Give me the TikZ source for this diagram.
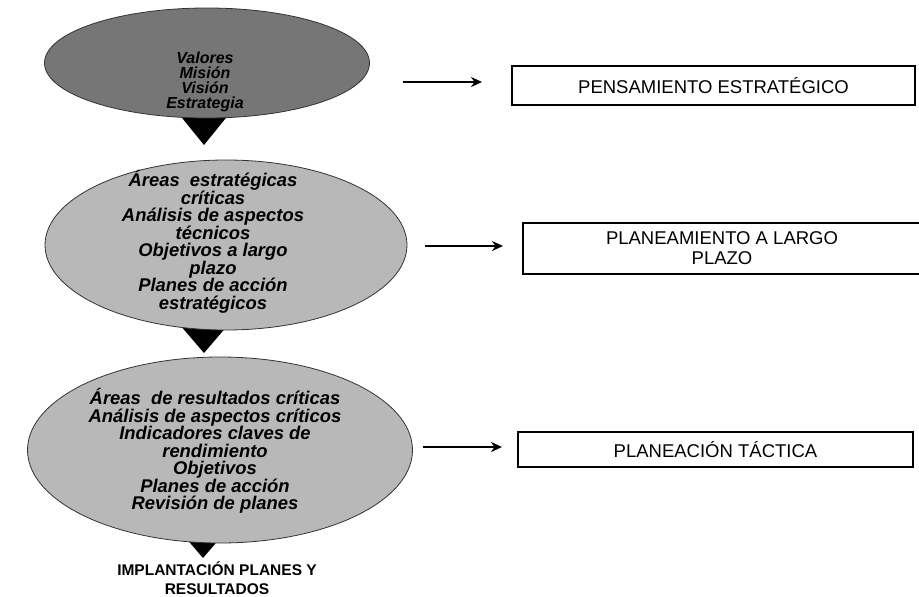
\documentclass[tikz,border=0pt]{standalone}
\usepackage{fontspec}
\setmainfont{Liberation Sans}
\usetikzlibrary{shapes.geometric,arrows.meta}

\definecolor{darkbubble}{RGB}{118,118,118}
\definecolor{lightbubble}{RGB}{184,184,184}

\begin{document}
\begin{tikzpicture}[x=1pt,y=-1pt,
  bubble/.style={ellipse, draw=black!80, line width=0.8pt, inner sep=0pt},
  bubbletext/.style={align=center, inner sep=0pt,
    font=\bfseries\itshape\fontsize{18.4}{17.5}\selectfont},
  stagebox/.style={draw, line width=2.6pt, inner sep=0pt, align=center,
    font=\fontsize{18.5}{20}\selectfont},
  flowtip/.style={fill=black},
  sidearrow/.style={line width=2.5pt, -{Stealth[length=11pt,width=10pt]}}
]
\useasboundingbox (0,0) rectangle (919,597);

% downward pointers between the stages (drawn first, tucked under the ellipses)
\fill[flowtip] (174,108) -- (234,108) -- (204,145) -- cycle;
\fill[flowtip] (174,318) -- (234,318) -- (204,353) -- cycle;
\fill[flowtip] (173,523) -- (233,523) -- (203,558) -- cycle;

% the three stages
\node[bubble, fill=darkbubble, minimum width=325pt, minimum height=110pt] (e1) at (207,63) {};
\node[bubble, fill=lightbubble, minimum width=362pt, minimum height=170pt] (e2) at (226,245) {};
\node[bubble, fill=lightbubble, minimum width=385pt, minimum height=186pt] (e3) at (220,450) {};

\node[bubbletext, font=\bfseries\itshape\fontsize{16}{15.2}\selectfont] (t1) at (205,82)
  {Valores\\Misión\\Visión\\Estrategia};
\node[bubbletext] (t2) at (213,242)
  {Áreas\ \ estratégicas\\críticas\\Análisis de aspectos\\técnicos\\Objetivos a largo\\plazo\\Planes de acción\\estratégicos};
\node[bubbletext] (t3) at (215,451)
  {Áreas\ \ de resultados críticas\\Análisis de aspectos críticos\\Indicadores claves de\\rendimiento\\Objetivos\\Planes de acción\\Revisión de planes};

\node[align=center, inner sep=0pt, font=\bfseries\fontsize{15.5}{19}\selectfont] (impl) at (217,578)
  {IMPLANTACIÓN PLANES Y\\RESULTADOS};

% planning levels
\node[stagebox, minimum width=403pt, minimum height=39pt] (b1) at (713.5,85.5) {PENSAMIENTO ESTRATÉGICO};
\node[stagebox, minimum width=398pt, minimum height=51pt] (b2) at (722,248.5) {PLANEAMIENTO A LARGO\\PLAZO};
\node[stagebox, minimum width=395pt, minimum height=35pt] (b3) at (715.5,449.5) {PLANEACIÓN TÁCTICA};

% arrows from each stage to its level
\coordinate (a1s) at (403,82);  \coordinate (a1e) at (482,82);
\coordinate (a2s) at (425,246); \coordinate (a2e) at (503,246);
\coordinate (a3s) at (423,447); \coordinate (a3e) at (502,447);
\draw[sidearrow] (a1s) -- (a1e);
\draw[sidearrow] (a2s) -- (a2e);
\draw[sidearrow] (a3s) -- (a3e);
\end{tikzpicture}
\end{document}
